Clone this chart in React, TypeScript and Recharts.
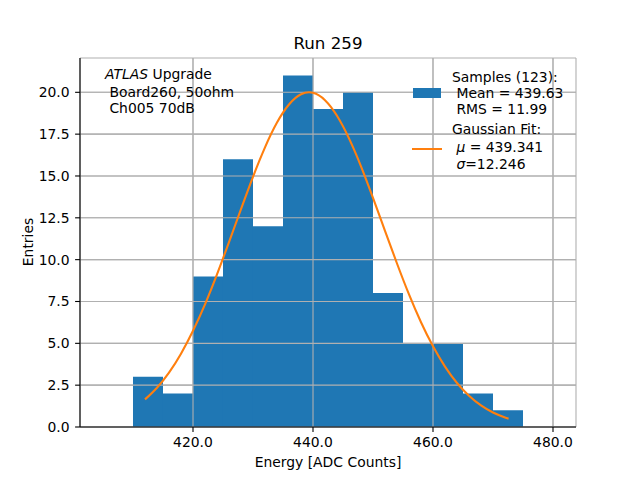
import React from 'react';
import { ComposedChart, Line, XAxis, YAxis, CartesianGrid, ReferenceArea, ReferenceLine } from 'recharts';

// histogram bins (5 ADC counts wide)
const binEdgesLow = [410, 415, 420, 425, 430, 435, 440, 445, 450, 455, 460, 465, 470];
const binWidth = 5;
const binCounts = [3, 2, 9, 16, 12, 21, 19, 20, 8, 5, 5, 2, 1];

// gaussian fit curve, sampled by eye along the orange line
const fitX = [412, 414, 416, 418, 420, 422, 424, 426, 428, 430, 432, 434, 436, 438, 440, 442, 444, 446, 448, 450, 452, 454, 456, 458, 460, 462, 464, 466, 468, 470, 472, 472.6];
const fitY = [1.65, 2.35, 3.25, 4.38, 5.75, 7.33, 9.12, 11.05, 13.02, 14.95, 16.71, 18.19, 19.27, 19.88, 19.97, 19.53, 18.6, 17.25, 15.58, 13.69, 11.72, 9.77, 7.92, 6.26, 4.82, 3.61, 2.63, 1.87, 1.29, 0.87, 0.57, 0.5];

const xTicks = [420, 440, 460, 480];
const yTicks = [0, 2.5, 5, 7.5, 10, 12.5, 15, 17.5, 20];

const X_DOMAIN: [number, number] = [401.1667, 483.8333];
const Y_DOMAIN: [number, number] = [0, 22.05];

const FONT = '"DejaVu Sans", sans-serif';
const BLUE = '#1f77b4';
const ORANGE = '#ff7f0e';
const GRID = '#b0b0b0';

const fitData = fitX.map((x, i) => ({ x, fit: fitY[i] }));

const txt = (top: number, left: number, content: React.ReactNode, size = 13.9) => (
  <div
    style={{
      position: 'absolute',
      top,
      left,
      fontFamily: FONT,
      fontSize: size,
      lineHeight: '16.5px',
      whiteSpace: 'pre',
      color: '#000',
    }}
  >
    {content}
  </div>
);

const App: React.FC = () => {
  const tickStyle = { fontFamily: FONT, fontSize: 13.9, fill: '#000' };

  return (
    <div style={{ position: 'absolute', left: 0, top: 0, width: 640, height: 480, background: '#fff' }}>
      <ComposedChart
        width={640}
        height={480}
        data={fitData}
        margin={{ top: 58, right: 64, bottom: 23, left: 20 }}
      >
        <XAxis
          dataKey="x"
          type="number"
          domain={X_DOMAIN}
          allowDataOverflow
          ticks={xTicks}
          tickFormatter={(v: number) => v.toFixed(1)}
          tick={tickStyle}
          tickSize={4.9}
          tickMargin={4.9}
          height={30}
          axisLine={{ stroke: '#000', strokeWidth: 1.1 }}
          tickLine={{ stroke: '#000', strokeWidth: 1.1 }}
        />
        <YAxis
          type="number"
          domain={Y_DOMAIN}
          allowDataOverflow
          ticks={yTicks}
          tickFormatter={(v: number) => v.toFixed(1)}
          tick={tickStyle}
          tickSize={4.9}
          tickMargin={5.5}
          width={60}
          axisLine={{ stroke: '#000', strokeWidth: 1.1 }}
          tickLine={{ stroke: '#000', strokeWidth: 1.1 }}
        />
        {/* extra axes only to draw the top/right spines */}
        <XAxis
          xAxisId="top"
          dataKey="x"
          type="number"
          orientation="top"
          domain={X_DOMAIN}
          allowDataOverflow
          height={0}
          tick={false}
          tickLine={false}
          axisLine={{ stroke: '#000', strokeWidth: 1.1 }}
        />
        <YAxis
          yAxisId="right"
          type="number"
          orientation="right"
          domain={Y_DOMAIN}
          allowDataOverflow
          width={0}
          tick={false}
          tickLine={false}
          axisLine={{ stroke: '#000', strokeWidth: 1.1 }}
        />
        <CartesianGrid stroke={GRID} strokeWidth={1.1} />
        {binCounts.map((c, i) => (
          <ReferenceArea
            key={`bin-${i}`}
            x1={binEdgesLow[i]}
            x2={binEdgesLow[i] + binWidth}
            y1={0}
            y2={c}
            fill={BLUE}
            fillOpacity={1}
            stroke="none"
          />
        ))}
        {/* matplotlib draws the grid over the bars, so repeat it above them */}
        {xTicks.map((t) => (
          <ReferenceLine key={`gx-${t}`} x={t} stroke={GRID} strokeWidth={1.1} />
        ))}
        {yTicks.map((t) => (
          <ReferenceLine key={`gy-${t}`} y={t} stroke={GRID} strokeWidth={1.1} />
        ))}
        <Line
          dataKey="fit"
          type="natural"
          stroke={ORANGE}
          strokeWidth={2.1}
          dot={false}
          isAnimationActive={false}
        />
      </ComposedChart>

      {/* title and axis labels */}
      <div
        style={{
          position: 'absolute',
          top: 33,
          left: 80,
          width: 496,
          textAlign: 'center',
          fontFamily: FONT,
          fontSize: 16.7,
          lineHeight: '20px',
        }}
      >
        Run 259
      </div>
      <div
        style={{
          position: 'absolute',
          top: 452,
          left: 80,
          width: 496,
          textAlign: 'center',
          fontFamily: FONT,
          fontSize: 13.9,
          lineHeight: '20px',
        }}
      >
        Energy [ADC Counts]
      </div>
      <div
        style={{
          position: 'absolute',
          top: 232,
          left: -22,
          width: 100,
          textAlign: 'center',
          fontFamily: FONT,
          fontSize: 13.9,
          lineHeight: '20px',
          transform: 'rotate(-90deg)',
        }}
      >
        Entries
      </div>

      {/* annotation */}
      {txt(66, 105, <><i>ATLAS</i> Upgrade</>)}
      {txt(83.5, 105, ' Board260, 50ohm')}
      {txt(99.5, 105, ' Ch005 70dB')}

      {/* legend */}
      <div style={{ position: 'absolute', left: 413, top: 88, width: 28, height: 10, background: BLUE }} />
      <div style={{ position: 'absolute', left: 412, top: 148, width: 30, height: 2.1, background: ORANGE }} />
      {txt(68.5, 452, 'Samples (123):')}
      {txt(84.5, 452, ' Mean = 439.63')}
      {txt(101, 452, ' RMS = 11.99')}
      {txt(121, 452, 'Gaussian Fit:')}
      {txt(138.5, 452, <> <i>μ</i> = 439.341</>)}
      {txt(156, 452, <> <i>σ</i>=12.246</>)}
    </div>
  );
};

export default App;
